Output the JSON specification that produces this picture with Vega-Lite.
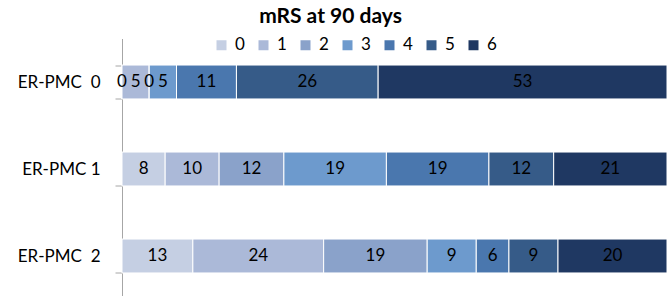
{
  "$schema": "https://vega.github.io/schema/vega-lite/v6.json",
  "autosize": "none",
  "width": 545,
  "height": 261,
  "padding": {"left": 122, "top": 38.5, "right": 0, "bottom": 0},
  "background": "white",
  "config": {"view": {"stroke": null}, "font": "Lato"},
  "title": {"text": "mRS at 90 days", "fontSize": 21, "fontWeight": "bold", "color": "#000000", "anchor": "middle", "dx": -64, "offset": 3, "font": "Lato"},
  "data": {"values": [
    {"group": "ER-PMC\u00a0\u00a00", "mrs": "0", "value": 0},
    {"group": "ER-PMC\u00a0\u00a00", "mrs": "1", "value": 5},
    {"group": "ER-PMC\u00a0\u00a00", "mrs": "2", "value": 0},
    {"group": "ER-PMC\u00a0\u00a00", "mrs": "3", "value": 5},
    {"group": "ER-PMC\u00a0\u00a00", "mrs": "4", "value": 11},
    {"group": "ER-PMC\u00a0\u00a00", "mrs": "5", "value": 26},
    {"group": "ER-PMC\u00a0\u00a00", "mrs": "6", "value": 53},
    {"group": "ER-PMC 1", "mrs": "0", "value": 8},
    {"group": "ER-PMC 1", "mrs": "1", "value": 10},
    {"group": "ER-PMC 1", "mrs": "2", "value": 12},
    {"group": "ER-PMC 1", "mrs": "3", "value": 19},
    {"group": "ER-PMC 1", "mrs": "4", "value": 19},
    {"group": "ER-PMC 1", "mrs": "5", "value": 12},
    {"group": "ER-PMC 1", "mrs": "6", "value": 21},
    {"group": "ER-PMC\u00a0\u00a02", "mrs": "0", "value": 13},
    {"group": "ER-PMC\u00a0\u00a02", "mrs": "1", "value": 24},
    {"group": "ER-PMC\u00a0\u00a02", "mrs": "2", "value": 19},
    {"group": "ER-PMC\u00a0\u00a02", "mrs": "3", "value": 9},
    {"group": "ER-PMC\u00a0\u00a02", "mrs": "4", "value": 6},
    {"group": "ER-PMC\u00a0\u00a02", "mrs": "5", "value": 9},
    {"group": "ER-PMC\u00a0\u00a02", "mrs": "6", "value": 20}
  ]},
  "encoding": {
    "y": {
      "field": "group", "type": "nominal",
      "sort": ["ER-PMC\u00a0\u00a00", "ER-PMC 1", "ER-PMC\u00a0\u00a02"],
      "scale": {"paddingInner": 0.61, "paddingOuter": 0.305},
      "axis": {
        "title": null, "domainColor": "#a6a6a6", "domainWidth": 1,
        "tickBand": "extent", "tickColor": "#a6a6a6", "tickSize": 7,
        "labelFontSize": 17, "labelColor": "#000000", "labelPadding": 15, "labelFont": "Lato"
      }
    },
    "order": {"field": "mrs", "type": "ordinal"}
  },
  "layer": [
    {
      "mark": {"type": "bar", "stroke": "white", "strokeWidth": 1},
      "encoding": {
        "x": {"field": "value", "type": "quantitative", "stack": "normalize", "axis": null, "scale": {"domain": [0, 1]}},
        "color": {
          "field": "mrs", "type": "nominal",
          "scale": {"domain": ["0", "1", "2", "3", "4", "5", "6"],
                    "range": ["#c5cfe3", "#abb9d8", "#8aa2ca", "#6d9acd", "#4a77ae", "#365b88", "#1f3862"]},
          "legend": {
            "title": null, "orient": "none", "direction": "horizontal",
            "legendX": 91, "legendY": -2, "symbolType": "square", "symbolSize": 100,
            "symbolStrokeWidth": 0, "labelFontSize": 17, "labelColor": "#000000",
            "labelOffset": 5, "columnPadding": 10, "labelFont": "Lato"
          }
        }
      }
    },
    {
      "mark": {"type": "text", "fontSize": 17, "color": "#000000", "baseline": "middle", "font": "Lato"},
      "encoding": {
        "x": {"field": "value", "type": "quantitative", "stack": "normalize", "bandPosition": 0.5},
        "detail": {"field": "mrs", "type": "nominal"},
        "text": {"field": "value", "type": "quantitative"}
      }
    }
  ]
}
